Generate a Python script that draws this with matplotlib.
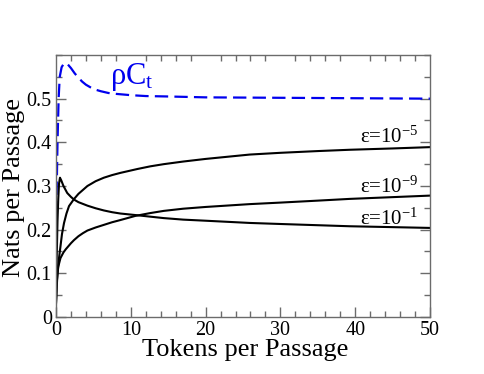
import matplotlib
matplotlib.use("Agg")
import matplotlib.pyplot as plt
from matplotlib.ticker import MultipleLocator

plt.rcParams['font.family'] = ['Liberation Serif', 'DejaVu Serif']
plt.rcParams['mathtext.fontset'] = 'custom'
plt.rcParams['mathtext.rm'] = 'Liberation Serif'
plt.rcParams['mathtext.it'] = 'Liberation Serif'

# rho*C_t (dashed blue)
x_rho = [0, 0.1, 0.2, 0.35, 0.5, 0.75, 1.0, 1.2, 1.6, 2, 2.5, 3, 3.5, 4, 5, 6, 7, 8, 10, 12, 15, 20, 30, 40, 50]
y_rho = [0.235, 0.30, 0.40, 0.50, 0.55, 0.572, 0.579, 0.582, 0.578, 0.570, 0.558, 0.548, 0.539, 0.532,
         0.522, 0.517, 0.513, 0.511, 0.508, 0.506, 0.505, 0.503, 0.502, 0.501, 0.500]

# epsilon = 1e-1 (peaked curve)
x_e1 = [0, 0.1, 0.2, 0.3, 0.4, 0.53, 0.7, 1.0, 1.5, 2.0, 2.4, 3.0, 4.2, 5.3, 6.4, 7.5, 8.6, 10.6,
        12.6, 14.4, 17, 20, 25.9, 30, 35, 39.3, 45, 50]
y_e1 = [0.032, 0.14, 0.22, 0.27, 0.305, 0.319, 0.313, 0.300, 0.284, 0.275, 0.269, 0.263, 0.255,
        0.249, 0.244, 0.240, 0.237, 0.2335, 0.2298, 0.2265, 0.223, 0.2205, 0.2154, 0.213, 0.2102,
        0.2078, 0.2058, 0.204]

# epsilon = 1e-5
x_e5 = [0, 0.1, 0.2, 0.4, 0.6, 0.8, 1.07, 1.4, 1.74, 2.4, 3.0, 4.2, 5.3, 6.4, 7.5, 8.6, 10.9,
        12.6, 14.4, 17, 20, 25.9, 30, 35, 39.3, 45, 50]
y_e5 = [0.032, 0.07, 0.10, 0.135, 0.162, 0.19, 0.215, 0.237, 0.254, 0.270, 0.282, 0.300, 0.311,
        0.319, 0.325, 0.330, 0.339, 0.345, 0.350, 0.356, 0.362, 0.372, 0.376, 0.380, 0.383,
        0.386, 0.389]

# epsilon = 1e-9
x_e9 = [0, 0.1, 0.3, 0.6, 1.0, 1.3, 2.0, 2.4, 3.0, 3.6, 4.2, 5.3, 6.4, 7.5, 8.6, 10.6, 12.6,
        14.4, 17, 20, 25.9, 30, 35, 39.3, 45, 50]
y_e9 = [0.032, 0.08, 0.115, 0.135, 0.148, 0.155, 0.169, 0.176, 0.185, 0.192, 0.198, 0.205,
        0.211, 0.217, 0.222, 0.2315, 0.238, 0.243, 0.248, 0.252, 0.2585, 0.262, 0.2665, 0.2705,
        0.2745, 0.278]

x_ticks = [0, 10, 20, 30, 40, 50]
y_ticks = [0, 0.1, 0.2, 0.3, 0.4, 0.5]
y_ticklabels = ['0', '0.1', '0.2', '0.3', '0.4', '0.5']

fig = plt.figure(figsize=(4.85, 3.74), dpi=100)
ax = fig.add_axes([56 / 485, 1 - 317 / 374, (430 - 56) / 485, (317 - 55) / 374])

ax.plot(x_rho, y_rho, color='#0000ee', lw=1.6, linestyle=(0, (6, 2.8)))
ax.plot(x_e1, y_e1, color='black', lw=1.5)
ax.plot(x_e5, y_e5, color='black', lw=1.5)
ax.plot(x_e9, y_e9, color='black', lw=1.5)

ax.set_xlim(0, 50)
ax.set_ylim(0, 0.6)
ax.set_xticks(x_ticks)
ax.set_xticklabels([str(t) for t in x_ticks])
ax.set_yticks(y_ticks)
ax.set_yticklabels(y_ticklabels)
ax.xaxis.set_minor_locator(MultipleLocator(2))
ax.yaxis.set_minor_locator(MultipleLocator(0.05))

spine_col = '#6b6b6b'
for s in ax.spines.values():
    s.set_color(spine_col)
    s.set_linewidth(1.0)
ax.tick_params(which='both', direction='in', top=True, right=True, color=spine_col, width=1.0,
               labelsize=14.5, pad=3)
ax.tick_params(which='major', length=7)
ax.tick_params(which='minor', length=4)
ax.tick_params(axis='x', which='major', top=False)

ax.set_xlabel('Tokens per Passage', fontsize=19)
ax.set_ylabel('Nats per Passage', fontsize=19)
ax.xaxis.set_label_coords(0.505, -0.085)
ax.yaxis.set_label_coords(-0.083, 0.495)

ax.text(7.2, 0.533, r'$\rho$C$_\mathregular{t}$', color='#0000ee', fontsize=22, ha='left', va='baseline')
ax.text(48.5, 0.400, r'ε=10$^{-5}$', fontsize=15, ha='right', va='baseline')
ax.text(48.5, 0.285, r'ε=10$^{-9}$', fontsize=15, ha='right', va='baseline')
ax.text(48.5, 0.211, r'ε=10$^{-1}$', fontsize=15, ha='right', va='baseline')

fig.savefig('out.png', dpi=100)
